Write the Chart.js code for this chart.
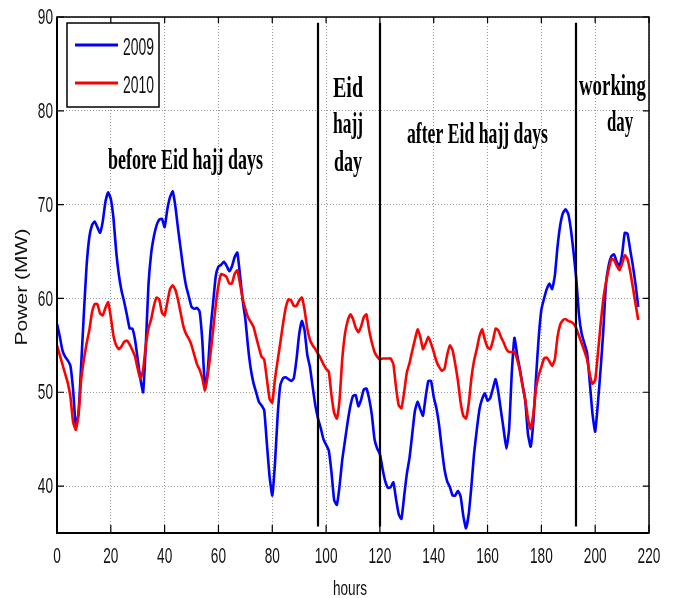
<!DOCTYPE html>
<html>
<head>
<meta charset="utf-8">
<script src="https://cdn.jsdelivr.net/npm/chart.js@4.4.1/dist/chart.umd.min.js"></script>
<style>
  body { margin: 0; background: #fff; }
  #wrap { width: 675px; height: 598px; }
</style>
</head>
<body>
<div id="wrap"><canvas id="myChart" width="675" height="598"></canvas></div>
<script>
// hours of the record, one reading per hour
var hours = Array.from({ length: 217 }, function (_, i) { return i; });

var load2009 = [
    57.3, 56, 54.5, 53.8, 53.4, 52.8, 50.2, 46.3, 47.8, 53,
    58.5, 63.5, 66.5, 67.8, 68.2, 67.6, 67, 68.2, 70.3, 71.3,
    70.6, 68.5, 65, 62.5, 60.8, 59.6, 58.2, 56.8, 56.8, 55.6,
    53.5, 51.4, 50, 55, 61.5, 64.8, 66.6, 67.8, 68.4, 68.5,
    67.6, 69.5, 70.8, 71.4, 69.8, 67.4, 65.2, 63, 61.3, 60.2,
    59.1, 58.9, 59, 58.6, 55.5, 50.4, 52.2, 56.5, 59.5, 62.4,
    63.4, 63.6, 63.9, 63.5, 62.9, 63.4, 64.4, 64.9, 62.5, 59.8,
    57.8, 54.8, 52.5, 51, 50, 49, 48.6, 48.1, 44.5, 41,
    39, 42.4, 47.5, 50.8, 51.5, 51.6, 51.4, 51.2, 51.5, 53.5,
    56.2, 57.6, 56.6, 54, 52.7, 50.6, 48.6, 47.2, 46.2, 45,
    44.4, 43.8, 41.5, 38.5, 38, 40, 42.8, 44.8, 46.8, 48.5,
    49.6, 49.7, 48.5, 49.2, 50.3, 50.4, 49.3, 47.6, 45, 44,
    43.4, 41.8, 40.5, 39.8, 39.9, 40.4, 38.6, 37, 36.5, 38.9,
    41.3, 43, 45.5, 48, 49, 48.2, 47.5, 49.5, 51.2, 51.2,
    49.5, 48.3, 46.5, 44, 41.8, 40.5, 39.9, 39, 39, 39.5,
    38.9, 36.8, 35.5, 37, 40, 43.5, 46, 48.2, 49.3, 49.9,
    49.1, 49.4, 50.4, 51.4, 50, 48, 46, 44, 46, 52,
    55.8, 54, 52.5, 50.8, 49.1, 45.6, 44.2, 46.8, 51.5, 55.8,
    58.8, 60, 61, 61.6, 61, 62.4, 65.5, 67.8, 69.1, 69.5,
    69, 67.3, 64.8, 62, 58.2, 56.2, 55.2, 54.2, 51, 47.7,
    45.8, 48.8, 52.4, 56.5, 61.5, 63.5, 64.5, 64.7, 63.9, 63.5,
    64.7, 67, 66.9, 65.2, 63.5, 61.5, 59.1
];

var load2010 = [
    55, 54, 53, 52, 51, 49.5, 46.8, 46, 47.6, 51.4,
    53.5, 55.2, 56.6, 58.5, 59.4, 59.4, 58.4, 58.2, 59, 59.6,
    58, 56, 55, 54.6, 54.9, 55.4, 55.5, 55.1, 54.5, 53.8,
    52.5, 51.4, 52.4, 55, 56.8, 57.8, 59.2, 60.1, 59.9, 58.5,
    58.2, 59.6, 61, 61.4, 60.9, 59.8, 58.4, 57, 56.2, 55.7,
    55, 54, 53, 52.4, 51.5, 50.2, 51.8, 54, 56.6, 59.3,
    61.4, 62.6, 62.5, 62.3, 61.6, 61.6, 62.6, 63, 61.6, 60,
    58.9, 58, 57.5, 57, 55.9, 54.8, 53.8, 53.5, 51.4, 49.3,
    48.9, 51.4, 53.4, 55.3, 57.3, 59, 59.9, 59.8, 59.2, 59.2,
    59.8, 60.1, 58.8, 56.8, 55.6, 55, 54.6, 54.1, 53.6, 53,
    52.5, 52.2, 49.7, 47.8, 47.2, 49.2, 53.5, 56.2, 57.6, 58.3,
    57.8, 56.9, 56.4, 57, 58, 58.3, 56.6, 55.3, 54.3, 53.8,
    53.5, 53.6, 53.6, 53.6, 53.6, 53, 50.5, 48.6, 48.3, 50,
    52.1, 53.1, 54.4, 55.6, 56.7, 55.9, 54.6, 55.2, 55.9, 55.2,
    54.3, 53.3, 52.7, 52.3, 52.5, 54, 55, 54.5, 53, 51.2,
    48.9, 47.5, 47.2, 48.8, 51.5, 53.4, 54.6, 56, 56.7, 55.6,
    54.8, 54.6, 55.5, 56.8, 56.6, 55.9, 55.3, 54.6, 54.3, 54.3,
    54.3, 53.5, 52.3, 50.7, 49.3, 47.2, 46.1, 47.6, 50.4, 51.8,
    52.7, 53.6, 53.7, 53.3, 52.8, 53.5, 55.9, 57.2, 57.7, 57.8,
    57.6, 57.5, 57.3, 56.8, 56, 55.2, 54.4, 53.5, 51.9, 50.9,
    51.3, 54.1, 57.2, 59.9, 61.7, 63.1, 64.2, 64.1, 63.5, 63,
    63.7, 64.6, 64.2, 62.9, 61.2, 59.4, 57.7
];

var xTicks = [0, 20, 40, 60, 80, 100, 120, 140, 160, 180, 200, 220];
var yTicks = [40, 50, 60, 70, 80, 90];
var seriesNames = ["2009", "2010"];
// period borders (hours)
var boundaries = [97, 120, 193];

function toPoints(vals) {
    return vals.map(function (v, i) { return { x: hours[i], y: v }; });
}

// squeezed text, like the narrow fonts in the original figure
function squeeze(ctx, text, x, y, sx, align, base) {
    ctx.save();
    ctx.translate(x, y);
    ctx.scale(sx, 1);
    ctx.textAlign = align;
    ctx.textBaseline = base;
    ctx.fillText(text, 0, 0);
    ctx.restore();
}
function fitText(ctx, text, cx, y, width) {
    var w = ctx.measureText(text).width;
    squeeze(ctx, text, cx, y, width / w, "center", "alphabetic");
}

var decorations = {
    id: "decorations",
    afterDatasetsDraw: function (chart) {
        var ctx = chart.ctx;
        var xs = chart.scales.x, ys = chart.scales.y;
        var a = chart.chartArea;
        ctx.save();

        // period borders
        ctx.strokeStyle = "#000";
        ctx.lineWidth = 2.2;
        boundaries.forEach(function (h) {
            var px = Math.round(xs.getPixelForValue(h));
            ctx.beginPath();
            ctx.moveTo(px, ys.getPixelForValue(89.4));
            ctx.lineTo(px, ys.getPixelForValue(35.7));
            ctx.stroke();
        });

        // frame
        ctx.lineWidth = 1.5;
        ctx.strokeRect(a.left, a.top, a.right - a.left, a.bottom - a.top);
        ctx.lineWidth = 2;
        ctx.beginPath();
        ctx.moveTo(a.left, a.top);
        ctx.lineTo(a.left, a.bottom);
        ctx.lineTo(a.right, a.bottom);
        ctx.stroke();

        // inward tick marks
        ctx.lineWidth = 1.2;
        ctx.beginPath();
        xTicks.forEach(function (t) {
            var px = xs.getPixelForValue(t);
            ctx.moveTo(px, a.bottom); ctx.lineTo(px, a.bottom - 8);
            ctx.moveTo(px, a.top); ctx.lineTo(px, a.top + 6);
        });
        yTicks.forEach(function (t) {
            var py = ys.getPixelForValue(t);
            ctx.moveTo(a.left, py); ctx.lineTo(a.left + 7, py);
            ctx.moveTo(a.right, py); ctx.lineTo(a.right - 6, py);
        });
        ctx.stroke();

        // tick labels
        ctx.fillStyle = "#111";
        ctx.font = "22px 'Liberation Sans', Arial, sans-serif";
        xTicks.forEach(function (t) {
            squeeze(ctx, String(t), xs.getPixelForValue(t), 557, 0.62, "center", "middle");
        });
        yTicks.forEach(function (t) {
            squeeze(ctx, String(t), 53, ys.getPixelForValue(t) + 1, 0.62, "right", "middle");
        });

        // axis titles
        ctx.font = "21px 'Liberation Sans', Arial, sans-serif";
        fitText(ctx, "hours", 350, 595, 34);
        ctx.save();
        ctx.translate(27, 287);
        ctx.rotate(-Math.PI / 2);
        ctx.font = "17px 'Liberation Sans', Arial, sans-serif";
        fitText(ctx, "Power (MW)", 0, 0, 117);
        ctx.restore();

        // period labels
        ctx.fillStyle = "#000";
        ctx.font = "bold 30px 'Liberation Serif', 'Times New Roman', serif";
        fitText(ctx, "before Eid hajj days", 185.5, 169, 155);
        fitText(ctx, "Eid", 348, 97, 30);
        fitText(ctx, "hajj", 348, 133, 30);
        fitText(ctx, "day", 348, 171, 28);
        fitText(ctx, "after Eid hajj days", 477.5, 143, 141);
        fitText(ctx, "working", 612.5, 95, 67);
        fitText(ctx, "day", 620, 131, 26);

        // legend box
        ctx.fillStyle = "#fff";
        ctx.fillRect(67, 23, 92, 84);
        ctx.strokeStyle = "#000";
        ctx.lineWidth = 1.5;
        ctx.strokeRect(67, 23, 92, 84);
        var legendColors = ["#0000ff", "#ff0000"];
        var legendY = [45, 83];
        ctx.lineWidth = 3;
        ctx.font = "23px 'Liberation Sans', Arial, sans-serif";
        for (var i = 0; i < seriesNames.length; i++) {
            ctx.strokeStyle = legendColors[i];
            ctx.beginPath();
            ctx.moveTo(75, legendY[i]);
            ctx.lineTo(118, legendY[i]);
            ctx.stroke();
            ctx.fillStyle = "#111";
            var w = ctx.measureText(seriesNames[i]).width;
            squeeze(ctx, seriesNames[i], 123, legendY[i] + 4, 31 / w, "left", "middle");
        }
        ctx.restore();
    }
};

const config = {
    type: "line",
    data: {
        datasets: [
            {
                label: seriesNames[0],
                data: toPoints(load2009),
                borderColor: "#0000ff",
                borderWidth: 2.6,
                pointRadius: 0,
                tension: 0.15,
                order: 1
            },
            {
                label: seriesNames[1],
                data: toPoints(load2010),
                borderColor: "#ff0000",
                borderWidth: 2.6,
                pointRadius: 0,
                tension: 0.15,
                order: 0
            }
        ]
    },
    options: {
        responsive: false,
        animation: false,
        layout: { padding: { left: 0, right: 26, top: 17, bottom: 0 } },
        plugins: {
            legend: { display: false },
            title: { display: false },
            tooltip: { enabled: false }
        },
        scales: {
            x: {
                type: "linear",
                min: 0,
                max: 220,
                afterBuildTicks: function (axis) {
                    axis.ticks = xTicks.map(function (v) { return { value: v }; });
                },
                afterFit: function (axis) { axis.height = 65; },
                ticks: { display: false },
                grid: { color: "#999999", lineWidth: 1, drawTicks: false },
                border: { display: false, dash: [1, 2] }
            },
            y: {
                min: 35,
                max: 90,
                afterBuildTicks: function (axis) {
                    axis.ticks = yTicks.map(function (v) { return { value: v }; });
                },
                afterFit: function (axis) { axis.width = 57; },
                ticks: { display: false },
                grid: { color: "#999999", lineWidth: 1, drawTicks: false },
                border: { display: false, dash: [1, 2] }
            }
        }
    },
    plugins: [decorations]
};

const myChart = new Chart(document.getElementById("myChart"), config);
</script>
</body>
</html>
